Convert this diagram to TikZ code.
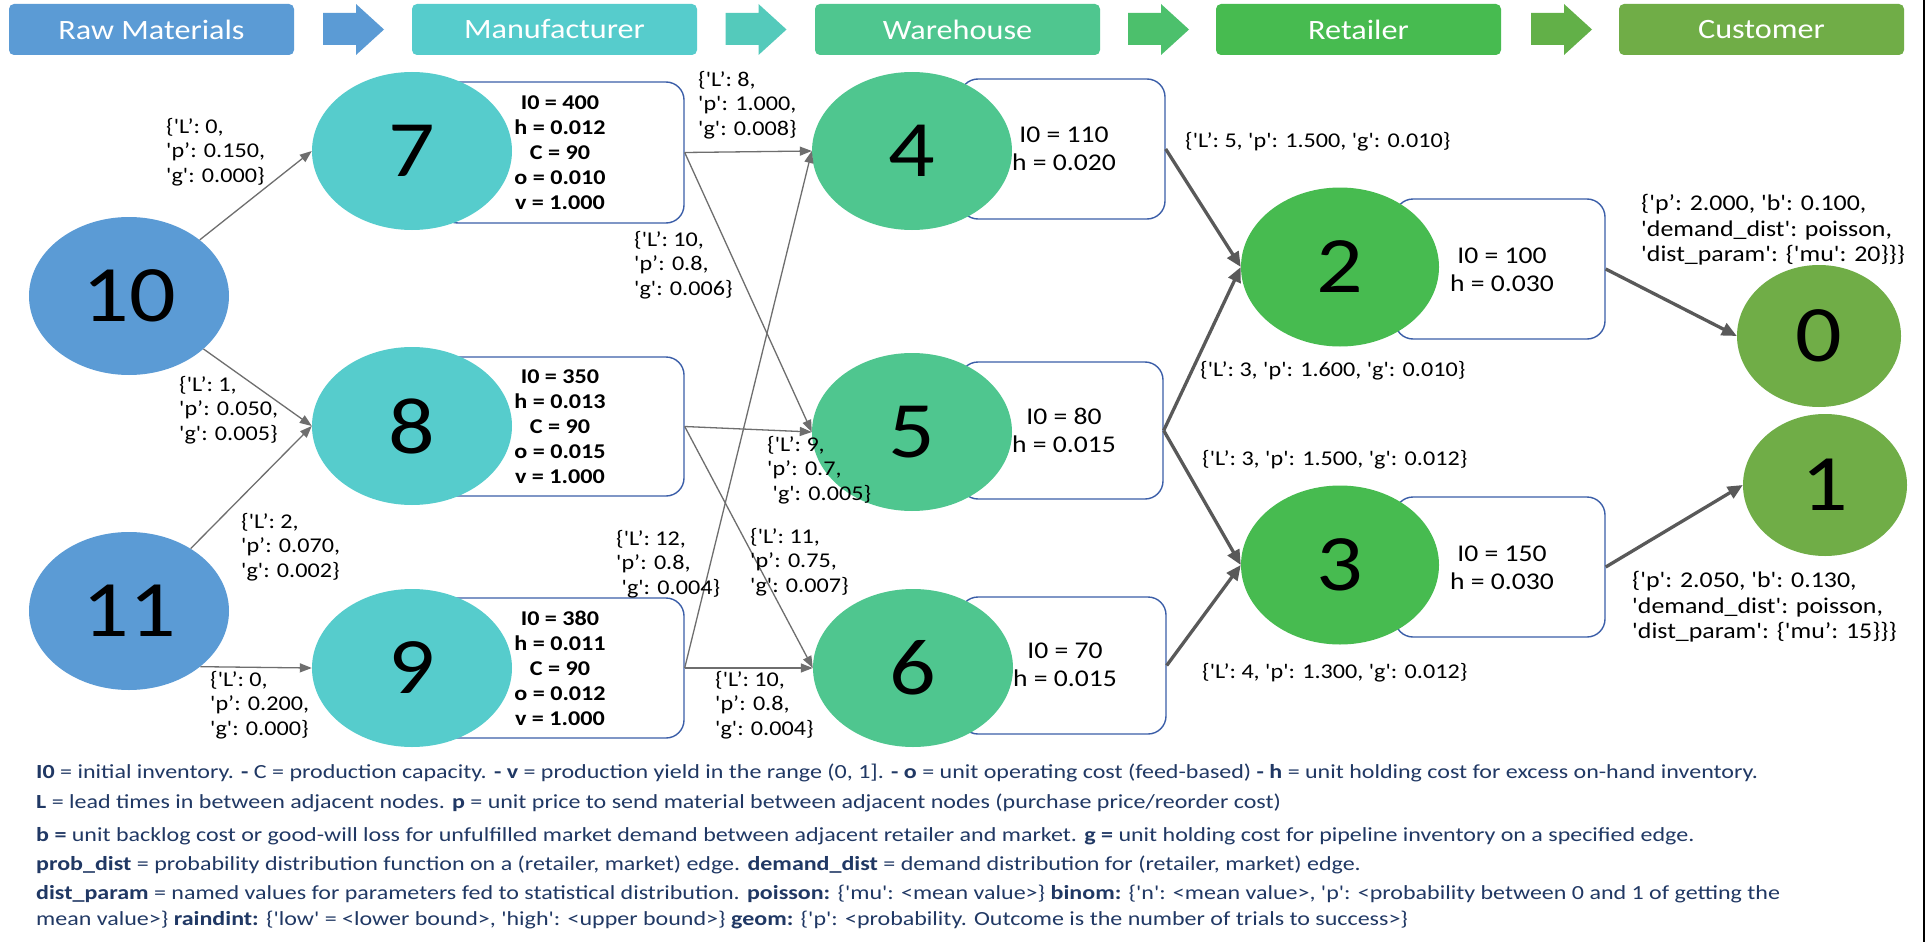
\documentclass[tikz,border=0pt]{standalone}
\usepackage{fontspec}
\newfontfamily\calfont[FakeStretch=1.15,Ligatures=TeXOff]{Carlito}
\newfontfamily\legfont[FakeStretch=1.2,Ligatures=TeXOff]{Carlito}
\usetikzlibrary{shapes.geometric,arrows.meta}
\definecolor{raw}{RGB}{91,155,213}
\definecolor{manu}{RGB}{86,204,204}
\definecolor{ware}{RGB}{79,198,143}
\definecolor{ret}{RGB}{71,187,80}
\definecolor{cust}{RGB}{112,173,71}
\definecolor{arrtwo}{RGB}{84,202,187}
\definecolor{arrthree}{RGB}{76,192,108}
\definecolor{arrfour}{RGB}{98,176,72}
\definecolor{boxblue}{RGB}{59,94,168}
\definecolor{legblue}{RGB}{32,56,100}
\definecolor{thingray}{RGB}{110,110,110}
\definecolor{thickgray}{RGB}{89,89,89}
\newcommand{\hdrarrow}[2]{\fill[#2] ({323+#1},13) -- ({356+#1},13) -- ({356+#1},4) -- ({384+#1},29.5) -- ({356+#1},55) -- ({356+#1},45) -- ({323+#1},45) -- cycle;}
\begin{document}
\begin{tikzpicture}[x=1pt,y=-1pt,
  hdr/.style={rectangle, rounded corners=5pt, minimum width=285pt, minimum height=51pt, inner sep=0pt, text=white, font=\calfont\fontsize{28}{30}\selectfont},
  nd/.style={ellipse, inner sep=0pt, minimum width=200pt, minimum height=158pt, font=\calfont\fontsize{80}{80}\selectfont},
  ndc/.style={ellipse, inner sep=0pt, minimum width=164pt, minimum height=142pt, fill=cust, font=\calfont\fontsize{80}{80}\selectfont},
  infobox/.style={rectangle, draw=boxblue, line width=1.4pt, rounded corners=18pt, fill=white, inner sep=0pt},
  mtxt/.style={align=center, inner sep=0pt, font=\calfont\bfseries\fontsize{21}{25}\selectfont},
  wtxt/.style={align=center, inner sep=0pt, font=\calfont\fontsize{24}{28}\selectfont},
  lab/.style={align=left, anchor=west, inner sep=0pt, font=\calfont\fontsize{21}{24.5}\selectfont},
  clab/.style={align=left, anchor=west, inner sep=0pt, font=\calfont\fontsize{22.5}{25.5}\selectfont},
  leg/.style={anchor=west, inner sep=0pt, text=legblue, font=\legfont\fontsize{20}{26}\selectfont},
  thinarr/.style={draw=thingray, line width=1.3pt, -{Triangle[length=12pt,width=9pt]}},
  thickarr/.style={draw=thickgray, line width=3.3pt, -{Triangle[length=15pt,width=13pt]}}
]
\useasboundingbox (0,0) rectangle (1928,942);
\fill[white] (0,0) rectangle (1928,942);
\draw[line width=2.5pt] (1924,0) -- (1924,942);

% header
\node[hdr, fill=raw]  (h0) at (151.5,29.5) {Raw Materials};
\node[hdr, fill=manu] (h1) at (554.5,29.5) {Manufacturer};
\node[hdr, fill=ware] (h2) at (957.5,29.5) {Warehouse};
\node[hdr, fill=ret]  (h3) at (1358.5,29.5) {Retailer};
\node[hdr, fill=cust] (h4) at (1761.5,29.5) {Customer};
\hdrarrow{0}{raw}
\hdrarrow{402.5}{arrtwo}
\hdrarrow{805}{arrthree}
\hdrarrow{1208}{arrfour}

% info boxes
\node[infobox, minimum width=244pt, minimum height=141pt] (b7) at (562,152.5) {};
\node[infobox, minimum width=244pt, minimum height=139pt] (b8) at (562,426.5) {};
\node[infobox, minimum width=244pt, minimum height=140pt] (b9) at (562,668) {};
\node[infobox, minimum width=205pt, minimum height=140pt] (b4) at (1062.5,149) {};
\node[infobox, minimum width=203pt, minimum height=137pt] (b5) at (1061.5,430.5) {};
\node[infobox, minimum width=206pt, minimum height=137pt] (b6) at (1063,665.5) {};
\node[infobox, minimum width=210pt, minimum height=140pt] (b2) at (1500,269) {};
\node[infobox, minimum width=210pt, minimum height=140pt] (b3) at (1500,567) {};

% nodes
\node[nd, fill=raw]  (n10) at (129,296) {10};
\node[nd, fill=raw]  (n11) at (129,611) {11};
\node[nd, fill=manu] (n7) at (412,151) {7};
\node[nd, fill=manu] (n8) at (412,426) {8};
\node[nd, fill=manu] (n9) at (412,668) {9};
\node[nd, fill=ware] (n4) at (912,151) {4};
\node[nd, fill=ware] (n5) at (912,432) {5};
\node[nd, fill=ware] (n6) at (913,668) {6};
\node[nd, fill=ret, minimum width=198pt, minimum height=159pt] (n2) at (1340,267) {2};
\node[nd, fill=ret, minimum width=198pt, minimum height=159pt] (n3) at (1340,565) {3};
\node[ndc] (n0) at (1819,336) {0};
\node[ndc] (n1) at (1825,485) {1};

% box texts
\node[mtxt] (t7) at (560,152.5) {I0 = 400\\h = 0.012\\C = 90\\o = 0.010\\v = 1.000};
\node[mtxt] (t8) at (560,426.5) {I0 = 350\\h = 0.013\\C = 90\\o = 0.015\\v = 1.000};
\node[mtxt] (t9) at (560,668) {I0 = 380\\h = 0.011\\C = 90\\o = 0.012\\v = 1.000};
\node[wtxt] (t4) at (1064,149) {I0 = 110\\h = 0.020};
\node[wtxt] (t5) at (1064,430) {I0 = 80\\h = 0.015};
\node[wtxt] (t6) at (1065,665) {I0 = 70\\h = 0.015};
\node[wtxt] (t2) at (1502,269.5) {I0 = 100\\h = 0.030};
\node[wtxt] (t3) at (1502,567.5) {I0 = 150\\h = 0.030};

% edges
\draw[thinarr] (n10) -- (n7.west);
\draw[thinarr] (n10) -- (n8.west);
\draw[thinarr] (n11) -- (n8.west);
\draw[thinarr] (n11.-38.5) -- (n9.west);
\draw[thinarr] (b7.east) -- (n4.west);
\draw[thinarr] (b7.east) -- (n5.west);
\draw[thinarr] (b8.east) -- (n5.west);
\draw[thinarr] (b8.east) -- (n6.west);
\draw[thinarr] (b9.east) -- (n4.west);
\draw[thinarr] (b9.east) -- (n6.west);
\draw[thickarr] (b4.east) -- (n2.west);
\draw[thickarr] (b5.east) -- (n2.west);
\draw[thickarr] (b5.east) -- (n3.west);
\draw[thickarr] (b6.east) -- (n3.west);
\draw[thickarr] (b2.east) -- (n0.west);
\draw[thickarr] (b3.east) -- (n1.west);

% edge labels
\node[lab] (l107) at (166,152) {\{'L’: 0,\\'p’: 0.150,\\'g': 0.000\}};
\node[lab] (l108) at (179,410) {\{'L’: 1,\\'p’: 0.050,\\'g': 0.005\}};
\node[lab] (l118) at (241,547) {\{'L’: 2,\\'p’: 0.070,\\'g': 0.002\}};
\node[lab] (l119) at (210,705) {\{'L’: 0,\\'p’: 0.200,\\'g': 0.000\}};
\node[lab] (l74) at (698,105) {\{'L’: 8,\\'p': 1.000,\\'g': 0.008\}};
\node[lab] (l75) at (634,265) {\{'L’: 10,\\'p’: 0.8,\\'g': 0.006\}};
\node[lab] (l85) at (767,470) {\{'L’: 9,\\'p’: 0.7,\\\ 'g': 0.005\}};
\node[lab] (l94) at (616,564) {\{'L’: 12,\\'p’: 0.8,\\\ 'g': 0.004\}};
\node[lab] (l86) at (750,562) {\{'L’: 11,\\'p’: 0.75,\\'g': 0.007\}};
\node[lab] (l96) at (715,705) {\{'L’: 10,\\'p’: 0.8,\\'g': 0.004\}};
\node[lab] (l42) at (1185,142) {\{'L’: 5, 'p': 1.500, 'g': 0.010\}};
\node[lab] (l52) at (1200,371) {\{'L’: 3, 'p': 1.600, 'g': 0.010\}};
\node[lab] (l53) at (1202,460) {\{'L’: 3, 'p': 1.500, 'g': 0.012\}};
\node[lab] (l63) at (1202,673) {\{'L’: 4, 'p': 1.300, 'g': 0.012\}};
\node[clab] (l20) at (1641,230) {\{'p’: 2.000, 'b': 0.100,\\'demand\_dist': poisson,\\'dist\_param': \{'mu': 20\}\}\}};
\node[clab] (l31) at (1632,607) {\{'p': 2.050, 'b': 0.130,\\'demand\_dist': poisson,\\'dist\_param': \{'mu’: 15\}\}\}};

% legend
\node[leg] (g1) at (36,773) {\textbf{I0} = initial inventory. \textbf{-} C = production capacity. \textbf{- v} = production yield in the range (0, 1]. \textbf{- o} = unit operating cost (feed-based) \textbf{- h} = unit holding cost for excess on-hand inventory.};
\node[leg] (g2) at (36,803) {\textbf{L} = lead times in between adjacent nodes. \textbf{p} = unit price to send material between adjacent nodes (purchase price/reorder cost)};
\node[leg] (g3) at (36,836) {\textbf{b =} unit backlog cost or good-will loss for unfulfilled market demand between adjacent retailer and market. \textbf{g =} unit holding cost for pipeline inventory on a specified edge.};
\node[leg] (g4) at (36,865) {\textbf{prob\_dist} = probability distribution function on a (retailer, market) edge. \textbf{demand\_dist} = demand distribution for (retailer, market) edge.};
\node[leg] (g5) at (36,894) {\textbf{dist\_param} = named values for parameters fed to statistical distribution. \textbf{poisson:} \{'mu': <mean value>\} \textbf{binom:} \{'n': <mean value>, 'p': <probability between 0 and 1 of getting the};
\node[leg] (g6) at (36,920) {mean value>\} \textbf{raindint:} \{'low' = <lower bound>, 'high': <upper bound>\} \textbf{geom:} \{'p': <probability. Outcome is the number of trials to success>\}};
\end{tikzpicture}
\end{document}
